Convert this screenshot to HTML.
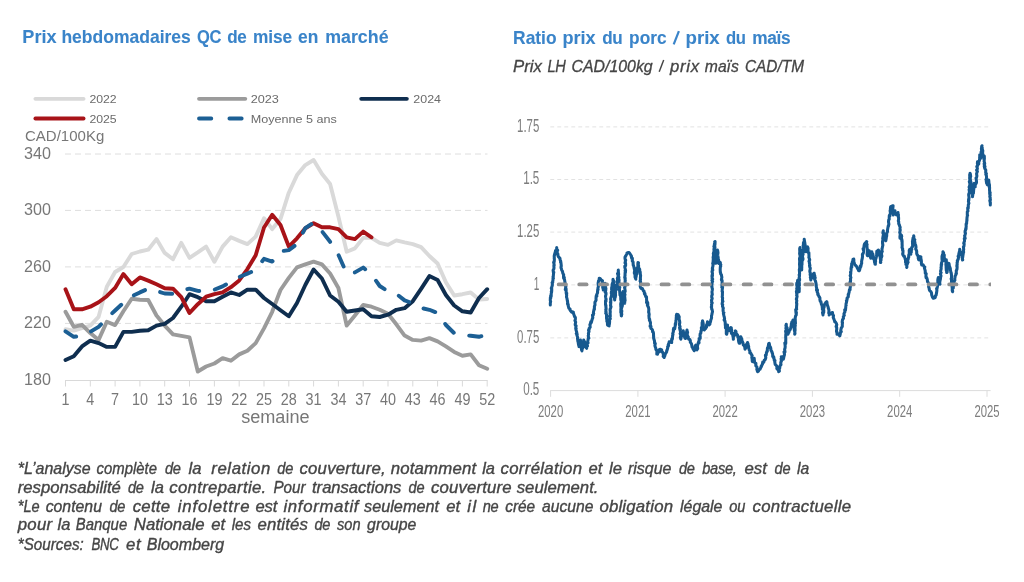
<!DOCTYPE html><html><head><meta charset="utf-8"><title>Prix hebdomadaires</title>
<style>html,body{margin:0;padding:0;background:#fff}svg{display:block}text{font-family:"Liberation Sans",sans-serif}</style></head><body>
<svg width="1024" height="582" viewBox="0 0 1024 582">
<rect width="100%" height="100%" fill="#fff"/>
<g style="will-change:transform">
<text transform="translate(22.3,42.7) scale(0.973,1)" font-size="18.6" fill="#3a84c9" textLength="35.2" lengthAdjust="spacing" font-weight="bold" stroke="#3a84c9" stroke-width="0.1">Prix</text>
<text transform="translate(61.4,42.7) scale(0.941,1)" font-size="18.6" fill="#3a84c9" textLength="137.5" lengthAdjust="spacing" font-weight="bold" stroke="#3a84c9" stroke-width="0.1">hebdomadaires</text>
<text transform="translate(197.1,42.7) scale(0.887,1)" font-size="18.6" fill="#3a84c9" textLength="27.3" lengthAdjust="spacing" font-weight="bold" stroke="#3a84c9" stroke-width="0.1">QC</text>
<text transform="translate(227.2,42.7) scale(0.918,1)" font-size="18.6" fill="#3a84c9" textLength="21.2" lengthAdjust="spacing" font-weight="bold" stroke="#3a84c9" stroke-width="0.1">de</text>
<text transform="translate(253.0,42.7) scale(0.930,1)" font-size="18.6" fill="#3a84c9" textLength="42.2" lengthAdjust="spacing" font-weight="bold" stroke="#3a84c9" stroke-width="0.1">mise</text>
<text transform="translate(298.1,42.7) scale(0.935,1)" font-size="18.6" fill="#3a84c9" textLength="21.7" lengthAdjust="spacing" font-weight="bold" stroke="#3a84c9" stroke-width="0.1">en</text>
<text transform="translate(325.2,42.7) scale(0.957,1)" font-size="18.6" fill="#3a84c9" textLength="66.2" lengthAdjust="spacing" font-weight="bold" stroke="#3a84c9" stroke-width="0.1">marché</text>
<text transform="translate(513.1,44.3) scale(0.935,1)" font-size="18.6" fill="#3a84c9" textLength="46.5" lengthAdjust="spacing" font-weight="bold" stroke="#3a84c9" stroke-width="0.1">Ratio</text>
<text transform="translate(562.5,44.3) scale(0.973,1)" font-size="18.6" fill="#3a84c9" textLength="34.1" lengthAdjust="spacing" font-weight="bold" stroke="#3a84c9" stroke-width="0.1">prix</text>
<text transform="translate(602.2,44.3) scale(0.918,1)" font-size="18.6" fill="#3a84c9" textLength="22.2" lengthAdjust="spacing" font-weight="bold" stroke="#3a84c9" stroke-width="0.1">du</text>
<text transform="translate(629.1,44.3) scale(0.930,1)" font-size="18.6" fill="#3a84c9" textLength="40.3" lengthAdjust="spacing" font-weight="bold" stroke="#3a84c9" stroke-width="0.1">porc</text>
<text transform="translate(685.5,44.3) scale(1.003,1)" font-size="18.6" fill="#3a84c9" textLength="34.1" lengthAdjust="spacing" font-weight="bold" stroke="#3a84c9" stroke-width="0.1">prix</text>
<text transform="translate(726.1,44.3) scale(0.896,1)" font-size="18.6" fill="#3a84c9" textLength="22.2" lengthAdjust="spacing" font-weight="bold" stroke="#3a84c9" stroke-width="0.1">du</text>
<text transform="translate(752.3,44.3) scale(0.930,1)" font-size="18.6" fill="#3a84c9" textLength="41.1" lengthAdjust="spacing" font-weight="bold" stroke="#3a84c9" stroke-width="0.1">maïs</text>
<line x1="673.7" y1="44.3" x2="678.9" y2="31.2" stroke="#3a84c9" stroke-width="2.2"/>
<line x1="659.2" y1="71.7" x2="663.7" y2="60.1" stroke="#454545" stroke-width="1.45"/>
<text transform="translate(513.1,71.9) scale(1.069,1)" font-size="15.7" fill="#454545" textLength="27.0" lengthAdjust="spacing" font-style="italic" stroke="#454545" stroke-width="0.3">Prix</text>
<text transform="translate(547.5,71.9) scale(0.930,1)" font-size="15.7" fill="#454545" textLength="19.6" lengthAdjust="spacing" font-style="italic" stroke="#454545" stroke-width="0.3">LH</text>
<text transform="translate(571.5,71.9) scale(1.011,1)" font-size="15.7" fill="#454545" textLength="80.3" lengthAdjust="spacing" font-style="italic" stroke="#454545" stroke-width="0.3">CAD/100kg</text>
<text transform="translate(670.0,71.9) scale(1.070,1)" font-size="15.7" fill="#454545" textLength="27.3" lengthAdjust="spacing" font-style="italic" stroke="#454545" stroke-width="0.3">prix</text>
<text transform="translate(704.8,71.9) scale(1.002,1)" font-size="15.7" fill="#454545" textLength="34.0" lengthAdjust="spacing" font-style="italic" stroke="#454545" stroke-width="0.3">maïs</text>
<text transform="translate(745.0,71.9) scale(0.980,1)" font-size="15.7" fill="#454545" textLength="60.2" lengthAdjust="spacing" font-style="italic" stroke="#454545" stroke-width="0.3">CAD/TM</text>
<line x1="65" y1="154.0" x2="487.5" y2="154.0" stroke="#dedede" stroke-width="1" stroke-dasharray="6 4"/>
<line x1="65" y1="210.4" x2="487.5" y2="210.4" stroke="#dedede" stroke-width="1" stroke-dasharray="6 4"/>
<line x1="65" y1="266.9" x2="487.5" y2="266.9" stroke="#dedede" stroke-width="1" stroke-dasharray="6 4"/>
<line x1="65" y1="323.4" x2="487.5" y2="323.4" stroke="#dedede" stroke-width="1" stroke-dasharray="6 4"/>
<line x1="65" y1="380.5" x2="487.7" y2="380.5" stroke="#d9d9d9" stroke-width="1"/>
<line x1="65.5" y1="380.5" x2="65.5" y2="386.5" stroke="#d9d9d9" stroke-width="1"/>
<text x="65.5" y="404.9" font-size="15.7" fill="#777777" textLength="8.0" lengthAdjust="spacingAndGlyphs" text-anchor="middle">1</text>
<line x1="90.3" y1="380.5" x2="90.3" y2="386.5" stroke="#d9d9d9" stroke-width="1"/>
<text x="90.3" y="404.9" font-size="15.7" fill="#777777" textLength="8.0" lengthAdjust="spacingAndGlyphs" text-anchor="middle">4</text>
<line x1="115.1" y1="380.5" x2="115.1" y2="386.5" stroke="#d9d9d9" stroke-width="1"/>
<text x="115.1" y="404.9" font-size="15.7" fill="#777777" textLength="8.0" lengthAdjust="spacingAndGlyphs" text-anchor="middle">7</text>
<line x1="139.9" y1="380.5" x2="139.9" y2="386.5" stroke="#d9d9d9" stroke-width="1"/>
<text x="139.9" y="404.9" font-size="15.7" fill="#777777" textLength="16.0" lengthAdjust="spacingAndGlyphs" text-anchor="middle">10</text>
<line x1="164.7" y1="380.5" x2="164.7" y2="386.5" stroke="#d9d9d9" stroke-width="1"/>
<text x="164.7" y="404.9" font-size="15.7" fill="#777777" textLength="16.0" lengthAdjust="spacingAndGlyphs" text-anchor="middle">13</text>
<line x1="189.5" y1="380.5" x2="189.5" y2="386.5" stroke="#d9d9d9" stroke-width="1"/>
<text x="189.5" y="404.9" font-size="15.7" fill="#777777" textLength="16.0" lengthAdjust="spacingAndGlyphs" text-anchor="middle">16</text>
<line x1="214.4" y1="380.5" x2="214.4" y2="386.5" stroke="#d9d9d9" stroke-width="1"/>
<text x="214.4" y="404.9" font-size="15.7" fill="#777777" textLength="16.0" lengthAdjust="spacingAndGlyphs" text-anchor="middle">19</text>
<line x1="239.2" y1="380.5" x2="239.2" y2="386.5" stroke="#d9d9d9" stroke-width="1"/>
<text x="239.2" y="404.9" font-size="15.7" fill="#777777" textLength="16.0" lengthAdjust="spacingAndGlyphs" text-anchor="middle">22</text>
<line x1="264.0" y1="380.5" x2="264.0" y2="386.5" stroke="#d9d9d9" stroke-width="1"/>
<text x="264.0" y="404.9" font-size="15.7" fill="#777777" textLength="16.0" lengthAdjust="spacingAndGlyphs" text-anchor="middle">25</text>
<line x1="288.8" y1="380.5" x2="288.8" y2="386.5" stroke="#d9d9d9" stroke-width="1"/>
<text x="288.8" y="404.9" font-size="15.7" fill="#777777" textLength="16.0" lengthAdjust="spacingAndGlyphs" text-anchor="middle">28</text>
<line x1="313.6" y1="380.5" x2="313.6" y2="386.5" stroke="#d9d9d9" stroke-width="1"/>
<text x="313.6" y="404.9" font-size="15.7" fill="#777777" textLength="16.0" lengthAdjust="spacingAndGlyphs" text-anchor="middle">31</text>
<line x1="338.4" y1="380.5" x2="338.4" y2="386.5" stroke="#d9d9d9" stroke-width="1"/>
<text x="338.4" y="404.9" font-size="15.7" fill="#777777" textLength="16.0" lengthAdjust="spacingAndGlyphs" text-anchor="middle">34</text>
<line x1="363.2" y1="380.5" x2="363.2" y2="386.5" stroke="#d9d9d9" stroke-width="1"/>
<text x="363.2" y="404.9" font-size="15.7" fill="#777777" textLength="16.0" lengthAdjust="spacingAndGlyphs" text-anchor="middle">37</text>
<line x1="388.0" y1="380.5" x2="388.0" y2="386.5" stroke="#d9d9d9" stroke-width="1"/>
<text x="388.0" y="404.9" font-size="15.7" fill="#777777" textLength="16.0" lengthAdjust="spacingAndGlyphs" text-anchor="middle">40</text>
<line x1="412.8" y1="380.5" x2="412.8" y2="386.5" stroke="#d9d9d9" stroke-width="1"/>
<text x="412.8" y="404.9" font-size="15.7" fill="#777777" textLength="16.0" lengthAdjust="spacingAndGlyphs" text-anchor="middle">43</text>
<line x1="437.6" y1="380.5" x2="437.6" y2="386.5" stroke="#d9d9d9" stroke-width="1"/>
<text x="437.6" y="404.9" font-size="15.7" fill="#777777" textLength="16.0" lengthAdjust="spacingAndGlyphs" text-anchor="middle">46</text>
<line x1="462.4" y1="380.5" x2="462.4" y2="386.5" stroke="#d9d9d9" stroke-width="1"/>
<text x="462.4" y="404.9" font-size="15.7" fill="#777777" textLength="16.0" lengthAdjust="spacingAndGlyphs" text-anchor="middle">49</text>
<line x1="487.2" y1="380.5" x2="487.2" y2="386.5" stroke="#d9d9d9" stroke-width="1"/>
<text x="487.2" y="404.9" font-size="15.7" fill="#777777" textLength="16.0" lengthAdjust="spacingAndGlyphs" text-anchor="middle">52</text>
<text x="24.0" y="158.7" font-size="16" fill="#777777" textLength="26.9" lengthAdjust="spacingAndGlyphs">340</text>
<text x="24.0" y="215.1" font-size="16" fill="#777777" textLength="26.9" lengthAdjust="spacingAndGlyphs">300</text>
<text x="24.0" y="271.6" font-size="16" fill="#777777" textLength="26.9" lengthAdjust="spacingAndGlyphs">260</text>
<text x="24.0" y="328.1" font-size="16" fill="#777777" textLength="26.9" lengthAdjust="spacingAndGlyphs">220</text>
<text x="24.0" y="384.6" font-size="16" fill="#777777" textLength="26.9" lengthAdjust="spacingAndGlyphs">180</text>
<text x="25.0" y="141.2" font-size="14.4" fill="#777777" textLength="79.3" lengthAdjust="spacingAndGlyphs">CAD/100Kg</text>
<text x="275.4" y="423.1" font-size="17.5" fill="#777777" textLength="68.5" lengthAdjust="spacingAndGlyphs" text-anchor="middle">semaine</text>
<line x1="35.4" y1="98.8" x2="83.6" y2="98.8" stroke="#d9d9d9" stroke-width="3.8" stroke-linecap="round"/>
<text x="89.4" y="103.0" font-size="11.3" fill="#6b6b6b" textLength="27.3" lengthAdjust="spacingAndGlyphs">2022</text>
<line x1="199.0" y1="98.8" x2="245.3" y2="98.8" stroke="#9b9b9b" stroke-width="3.8" stroke-linecap="round"/>
<text x="250.7" y="103.0" font-size="11.3" fill="#6b6b6b" textLength="28.2" lengthAdjust="spacingAndGlyphs">2023</text>
<line x1="361.2" y1="98.8" x2="406.9" y2="98.8" stroke="#0f2e4f" stroke-width="3.8" stroke-linecap="round"/>
<text x="413.3" y="103.0" font-size="11.3" fill="#6b6b6b" textLength="27.7" lengthAdjust="spacingAndGlyphs">2024</text>
<line x1="35.4" y1="118.5" x2="83.6" y2="118.5" stroke="#a81318" stroke-width="3.8" stroke-linecap="round"/>
<text x="89.4" y="122.7" font-size="11.3" fill="#6b6b6b" textLength="27.3" lengthAdjust="spacingAndGlyphs">2025</text>
<line x1="199.0" y1="118.5" x2="245.3" y2="118.5" stroke="#1c5f94" stroke-width="3.8" stroke-linecap="round" stroke-dasharray="12.3 18.1"/>
<text x="250.7" y="122.7" font-size="11.3" fill="#6b6b6b" textLength="86.2" lengthAdjust="spacingAndGlyphs">Moyenne 5 ans</text>
<polyline points="65.5,329.3 73.8,330.6 82.0,328.1 90.3,325.6 98.6,316.8 106.8,286.7 115.1,272.0 123.4,267.0 131.7,254.0 139.9,251.5 148.2,249.7 156.5,239.1 164.7,252.9 173.0,259.2 181.3,242.9 189.5,257.9 197.8,252.4 206.1,246.6 214.4,261.7 222.6,246.6 230.9,237.3 239.2,240.9 247.4,244.1 255.7,236.6 264.0,218.3 272.2,229.1 280.5,219.0 288.8,192.7 297.0,175.1 305.3,165.1 313.6,160.0 321.9,173.8 330.1,183.9 338.4,216.5 346.7,251.7 354.9,248.4 363.2,237.9 371.5,237.9 379.7,242.9 388.0,244.9 396.3,240.4 404.6,242.4 412.8,244.1 421.1,247.2 429.4,256.0 437.6,263.5 445.9,282.3 454.2,295.5 462.4,294.2 470.7,292.5 479.0,299.5 487.2,299.0" fill="none" stroke="#d9d9d9" stroke-width="3.9" stroke-linejoin="round" stroke-linecap="round"/>
<polyline points="65.5,311.8 73.8,326.8 82.0,324.8 90.3,333.1 98.6,339.9 106.8,321.8 115.1,325.1 123.4,311.3 131.7,298.7 139.9,299.7 148.2,300.0 156.5,315.5 164.7,325.6 173.0,334.4 181.3,335.9 189.5,337.4 197.8,371.5 206.1,366.5 214.4,363.5 222.6,358.2 230.9,360.7 239.2,354.4 247.4,350.7 255.7,343.1 264.0,328.4 272.2,311.8 280.5,290.0 288.8,277.9 297.0,267.4 305.3,264.3 313.6,261.6 321.9,264.4 330.1,273.5 338.4,288.0 346.7,325.6 354.9,315.5 363.2,305.0 371.5,306.7 379.7,309.8 388.0,313.8 396.3,324.3 404.6,335.6 412.8,339.9 421.1,340.6 429.4,338.1 437.6,341.4 445.9,346.4 454.2,351.9 462.4,355.7 470.7,354.4 479.0,365.2 487.2,368.7" fill="none" stroke="#9b9b9b" stroke-width="3.9" stroke-linejoin="round" stroke-linecap="round"/>
<polyline points="65.5,360.0 73.8,356.2 82.0,346.4 90.3,340.6 98.6,343.1 106.8,346.9 115.1,346.9 123.4,331.9 131.7,331.9 139.9,330.8 148.2,330.3 156.5,325.6 164.7,323.8 173.0,318.0 181.3,306.7 189.5,294.2 197.8,297.2 206.1,301.2 214.4,301.2 222.6,296.7 230.9,292.4 239.2,295.0 247.4,289.7 255.7,289.7 264.0,298.0 272.2,304.0 280.5,310.2 288.8,316.3 297.0,303.0 305.3,285.0 313.6,269.5 321.9,278.5 330.1,295.5 338.4,301.7 346.7,311.8 354.9,310.5 363.2,309.3 371.5,316.3 379.7,317.0 388.0,314.7 396.3,309.8 404.6,308.2 412.8,301.2 421.1,288.8 429.4,276.1 437.6,280.0 445.9,295.0 454.2,305.5 462.4,311.3 470.7,312.5 479.0,298.0 487.2,289.2" fill="none" stroke="#0f2e4f" stroke-width="3.9" stroke-linejoin="round" stroke-linecap="round"/>
<polyline points="65.5,289.2 73.8,309.3 82.0,309.3 90.3,306.7 98.6,302.2 106.8,296.2 115.1,287.9 123.4,274.1 131.7,284.2 139.9,277.4 148.2,280.6 156.5,284.2 164.7,288.2 173.0,288.7 181.3,297.2 189.5,313.0 197.8,304.2 206.1,296.7 214.4,294.2 222.6,292.4 230.9,287.2 239.2,280.4 247.4,269.1 255.7,255.3 264.0,227.5 272.2,214.8 280.5,225.0 288.8,246.6 297.0,238.3 305.3,228.2 313.6,223.3 321.9,227.3 330.1,227.3 338.4,229.1 346.7,237.3 354.9,239.1 363.2,231.6 371.5,237.3" fill="none" stroke="#a81318" stroke-width="3.9" stroke-linejoin="round" stroke-linecap="round"/>
<polyline points="65.5,331.4 73.8,336.8 82.0,335.6 90.3,331.9 98.6,326.8 106.8,318.5 115.1,310.5 123.4,302.8 131.7,296.4 139.9,292.4 148.2,288.7 156.5,291.0 164.7,293.5 173.0,293.7 181.3,291.0 189.5,288.6 197.8,290.9 206.1,291.7 214.4,289.7 222.6,286.4 230.9,281.7 239.2,277.0 247.4,273.6 255.7,270.0 264.0,258.8 272.2,261.6 280.5,251.4 288.8,250.1 297.0,244.0 305.3,228.2 313.6,222.6 321.9,231.2 330.1,241.8 338.4,254.7 346.7,273.5 354.9,272.4 363.2,267.6 371.5,274.5 379.7,286.0 388.0,291.3 396.3,293.8 404.6,300.4 412.8,303.3 421.1,308.0 429.4,309.8 437.6,313.0 445.9,325.0 454.2,333.2 462.4,334.7 470.7,335.8 479.0,336.8 487.2,334.6" fill="none" stroke="#1c5f94" stroke-width="3.9" stroke-linejoin="round" stroke-linecap="round" stroke-dasharray="12.3 15.85"/>
<line x1="550.3" y1="126.9" x2="990.8" y2="126.9" stroke="#e2e2e2" stroke-width="1" stroke-dasharray="3.9 3.1"/>
<line x1="550.3" y1="179.5" x2="990.8" y2="179.5" stroke="#e2e2e2" stroke-width="1" stroke-dasharray="3.9 3.1"/>
<line x1="550.3" y1="232.1" x2="990.8" y2="232.1" stroke="#e2e2e2" stroke-width="1" stroke-dasharray="3.9 3.1"/>
<line x1="550.3" y1="284.9" x2="990.8" y2="284.9" stroke="#e2e2e2" stroke-width="1" stroke-dasharray="3.9 3.1"/>
<line x1="550.3" y1="337.9" x2="990.8" y2="337.9" stroke="#e2e2e2" stroke-width="1" stroke-dasharray="3.9 3.1"/>
<line x1="550.2" y1="390.6" x2="990.6" y2="390.6" stroke="#dcdcdc" stroke-width="1"/>
<text x="539.3" y="131.7" font-size="17.5" fill="#7d7d7d" textLength="22.2" lengthAdjust="spacingAndGlyphs" text-anchor="end">1.75</text>
<text x="539.3" y="184.4" font-size="17.5" fill="#7d7d7d" textLength="16.1" lengthAdjust="spacingAndGlyphs" text-anchor="end">1.5</text>
<text x="539.3" y="237.2" font-size="17.5" fill="#7d7d7d" textLength="22.2" lengthAdjust="spacingAndGlyphs" text-anchor="end">1.25</text>
<text x="539.3" y="289.9" font-size="17.5" fill="#7d7d7d" textLength="5.6" lengthAdjust="spacingAndGlyphs" text-anchor="end">1</text>
<text x="539.3" y="342.7" font-size="17.5" fill="#7d7d7d" textLength="22.2" lengthAdjust="spacingAndGlyphs" text-anchor="end">0.75</text>
<text x="539.3" y="395.4" font-size="17.5" fill="#7d7d7d" textLength="16.1" lengthAdjust="spacingAndGlyphs" text-anchor="end">0.5</text>
<line x1="550.6" y1="390.6" x2="550.6" y2="396.8" stroke="#dcdcdc" stroke-width="1"/>
<text x="550.6" y="416.5" font-size="17" fill="#7d7d7d" textLength="25.2" lengthAdjust="spacingAndGlyphs" text-anchor="middle">2020</text>
<line x1="637.9" y1="390.6" x2="637.9" y2="396.8" stroke="#dcdcdc" stroke-width="1"/>
<text x="637.9" y="416.5" font-size="17" fill="#7d7d7d" textLength="25.2" lengthAdjust="spacingAndGlyphs" text-anchor="middle">2021</text>
<line x1="725.1" y1="390.6" x2="725.1" y2="396.8" stroke="#dcdcdc" stroke-width="1"/>
<text x="725.1" y="416.5" font-size="17" fill="#7d7d7d" textLength="25.2" lengthAdjust="spacingAndGlyphs" text-anchor="middle">2022</text>
<line x1="812.4" y1="390.6" x2="812.4" y2="396.8" stroke="#dcdcdc" stroke-width="1"/>
<text x="812.4" y="416.5" font-size="17" fill="#7d7d7d" textLength="25.2" lengthAdjust="spacingAndGlyphs" text-anchor="middle">2023</text>
<line x1="899.7" y1="390.6" x2="899.7" y2="396.8" stroke="#dcdcdc" stroke-width="1"/>
<text x="899.7" y="416.5" font-size="17" fill="#7d7d7d" textLength="25.2" lengthAdjust="spacingAndGlyphs" text-anchor="middle">2024</text>
<line x1="987.0" y1="390.6" x2="987.0" y2="396.8" stroke="#dcdcdc" stroke-width="1"/>
<text x="987.0" y="416.5" font-size="17" fill="#7d7d7d" textLength="25.2" lengthAdjust="spacingAndGlyphs" text-anchor="middle">2025</text>
<polyline points="550.3,305.0 550.3,303.0 550.6,301.7 550.6,301.3 550.3,300.6 550.3,299.3 550.4,297.3 550.8,298.1 550.7,295.4 551.2,296.2 551.2,293.6 551.7,291.6 551.3,291.7 551.8,290.0 551.3,288.3 551.7,289.0 551.7,287.2 552.3,285.5 552.4,283.5 552.1,282.7 552.8,282.1 552.7,281.4 553.0,280.0 553.0,278.3 553.4,278.2 553.0,276.8 553.3,276.4 553.5,273.7 553.8,272.2 553.4,272.7 553.2,270.8 553.1,270.2 553.9,268.8 554.0,267.0 553.9,266.6 553.9,265.1 554.2,265.2 553.9,263.3 553.6,262.3 554.2,261.9 554.4,258.9 554.2,258.3 554.3,257.7 554.2,256.1 554.6,254.1 554.8,254.7 555.1,252.3 555.6,252.8 555.5,250.6 556.2,250.7 556.7,249.5 556.7,247.5 556.7,248.5 556.9,250.9 557.7,250.2 557.1,251.6 557.4,253.4 557.9,254.0 558.0,255.8 558.6,256.9 560.0,258.3 560.0,259.7 560.7,261.2 560.5,262.1 560.8,261.8 561.2,264.9 561.3,266.1 561.1,266.2 561.0,268.0 561.1,267.7 561.7,270.0 561.9,270.4 562.5,271.3 562.7,272.8 563.7,275.0 563.5,275.8 563.6,278.2 564.3,277.4 564.2,279.0 564.5,279.6 565.1,282.9 564.9,282.7 564.8,282.9 565.3,285.0 565.3,285.5 565.9,286.3 565.3,289.5 566.0,288.5 566.1,289.3 566.2,292.9 566.7,293.3 566.3,293.5 566.7,295.0 566.5,296.9 566.9,298.1 566.9,297.9 567.4,301.0 567.6,301.7 567.7,302.8 567.5,303.3 567.7,304.5 568.2,304.3 568.3,306.1 568.9,308.3 570.0,308.8 570.0,310.0 571.6,312.1 572.5,311.7 573.4,312.3 573.2,313.0 573.7,313.9 574.6,316.7 575.0,316.7 575.4,317.8 575.3,319.8 574.9,320.6 575.7,322.1 575.6,322.4 575.2,324.4 575.4,325.6 576.1,325.7 575.7,328.3 575.8,328.3 576.2,328.6 575.9,329.6 576.8,332.5 576.3,333.6 577.2,334.3 576.8,335.1 576.8,334.8 577.7,337.6 577.5,338.3 577.8,340.7 577.9,341.7 578.5,341.2 578.2,342.6 578.5,344.5 578.7,345.3 579.2,346.7 579.0,346.6 579.4,344.3 579.8,344.4 579.9,343.3 580.1,341.2 580.3,340.0 580.5,340.0 580.6,341.6 580.4,344.4 580.8,344.7 581.5,346.2 581.3,347.3 581.7,349.2 581.5,349.8 582.0,350.8 582.0,349.0 582.6,348.4 582.6,347.9 583.1,345.9 583.0,344.8 583.1,344.1 583.3,342.5 583.5,342.4 583.7,340.0 584.1,342.1 584.6,341.6 584.6,344.5 585.1,343.5 584.7,345.4 585.3,346.7 586.7,348.3 586.5,346.5 586.7,346.6 587.5,346.0 587.1,344.5 587.7,341.8 588.1,342.9 587.7,341.7 588.1,339.4 588.3,338.3 588.9,338.1 588.2,335.9 588.6,334.6 588.4,333.4 589.0,331.5 588.9,331.5 588.5,330.1 589.2,329.5 589.2,328.3 589.1,328.5 590.2,327.3 589.9,324.4 590.2,324.6 590.8,321.8 591.3,322.7 592.0,319.9 591.8,320.5 592.5,318.3 592.8,317.7 592.5,315.0 593.3,314.8 592.9,315.0 593.7,313.6 593.4,312.6 593.6,311.5 594.1,309.0 594.4,309.4 594.4,306.3 594.8,305.4 595.0,305.0 594.9,303.0 595.0,302.0 595.5,301.2 596.1,300.0 596.0,298.6 596.1,297.1 596.2,296.0 596.9,296.2 596.6,294.9 597.5,292.9 597.6,292.6 597.5,291.7 597.6,291.4 597.7,289.5 598.1,289.6 597.9,288.1 598.4,286.5 598.2,284.6 598.1,282.9 598.2,283.4 598.5,280.8 598.5,281.4 599.4,279.9 599.2,278.3 600.1,278.5 601.2,279.9 602.5,280.8 602.3,281.8 602.5,284.3 603.2,284.4 602.7,286.6 602.8,286.2 602.7,287.4 603.2,288.9 603.3,290.0 603.3,288.9 603.4,287.2 603.8,286.4 604.0,284.3 604.5,283.7 605.0,283.3 605.2,284.6 605.4,286.1 605.4,287.8 605.2,287.5 605.9,288.3 605.7,290.7 605.2,292.4 606.0,293.0 606.0,294.6 605.8,295.0 605.5,296.2 605.8,298.1 606.1,299.2 605.9,300.5 606.0,301.1 605.6,300.4 605.5,302.4 605.5,304.8 605.9,305.3 605.9,306.6 605.8,305.9 606.1,309.0 605.8,309.5 606.0,309.4 605.8,311.7 606.2,312.1 605.7,313.3 606.5,314.2 606.6,317.3 606.5,316.9 606.6,318.8 607.0,319.7 607.1,319.5 606.8,321.0 607.4,322.3 607.4,322.6 607.5,325.0 609.2,325.8 608.9,324.1 609.5,324.0 609.6,321.7 609.6,321.0 609.6,318.9 610.1,318.0 610.3,318.7 609.5,316.3 610.3,316.4 610.1,313.4 610.0,314.0 610.3,311.7 610.1,310.7 610.1,309.4 610.9,307.3 610.9,307.1 611.0,306.5 610.5,305.8 610.8,302.4 610.4,302.5 610.9,300.8 610.6,299.8 610.9,299.9 610.6,298.6 611.5,295.8 611.6,296.2 611.6,293.9 611.3,293.3 611.4,291.9 612.1,291.2 611.6,289.6 611.7,287.4 611.7,288.3 612.0,287.4 612.1,284.5 612.5,283.1 612.5,283.9 613.1,282.3 613.0,281.4 613.0,279.2 613.5,280.5 613.4,280.3 613.5,282.5 613.6,284.2 613.3,283.8 613.9,285.1 613.6,286.9 613.6,289.0 614.3,289.0 614.1,290.2 614.1,291.6 613.8,292.2 613.9,295.3 614.3,294.6 614.8,297.8 614.4,296.7 614.3,297.8 614.7,300.0 614.7,297.8 614.8,297.0 615.2,297.5 615.6,295.1 615.4,294.2 615.6,292.6 615.4,291.3 616.4,289.7 616.2,289.8 616.3,288.3 616.8,286.4 616.4,285.4 616.6,284.8 617.2,284.7 617.3,281.4 616.7,282.0 617.6,280.2 617.4,277.9 617.4,279.1 617.9,277.8 618.1,275.1 617.5,273.7 618.0,273.9 618.5,272.9 618.3,271.8 618.3,270.0 618.4,271.3 618.1,273.0 618.3,274.5 618.7,274.1 618.3,275.1 618.9,277.4 618.5,276.9 618.9,279.3 618.9,279.5 619.1,280.1 618.9,282.4 619.6,284.1 619.6,284.8 619.1,285.3 619.8,287.6 619.3,287.0 619.5,289.8 619.5,289.9 619.7,291.7 620.0,294.0 619.8,292.8 620.0,295.0 620.5,295.6 620.8,298.2 620.7,298.0 620.8,300.0 621.3,300.6 621.2,301.6 620.7,304.1 620.8,305.7 621.0,304.8 620.8,306.6 621.2,309.1 620.8,308.8 620.9,311.4 620.9,310.1 620.8,312.2 621.6,314.6 621.5,316.0 621.3,315.8 621.8,314.3 621.2,314.8 621.8,311.3 621.8,311.1 621.6,309.9 621.5,307.9 621.7,307.8 622.3,306.1 622.4,305.2 622.0,305.7 622.5,303.6 621.8,302.6 622.2,302.6 622.1,300.1 622.8,298.1 622.5,299.1 622.9,296.0 622.3,294.9 623.2,294.3 623.1,294.9 622.8,292.2 623.0,291.7 623.6,293.1 623.1,294.6 623.3,294.6 623.2,297.0 624.2,297.8 624.4,297.4 623.9,299.8 624.7,302.2 624.4,301.5 624.7,303.3 624.6,302.2 625.1,300.3 625.0,300.6 625.0,299.6 624.8,297.3 624.6,296.3 625.0,294.5 624.5,295.1 624.6,292.2 624.4,292.4 624.7,292.4 625.2,291.3 624.7,287.8 624.5,287.8 625.1,286.5 624.7,285.3 625.0,284.9 625.2,284.2 625.1,281.2 625.3,280.6 625.1,279.7 625.2,278.1 624.8,277.1 624.7,277.7 625.1,275.1 625.0,275.7 625.1,272.6 625.4,272.6 625.6,270.1 625.1,270.8 625.5,270.0 624.8,267.2 624.8,265.9 625.6,265.8 625.6,264.1 625.6,263.2 625.0,262.9 625.7,260.1 625.4,260.3 625.0,258.5 625.0,257.0 625.3,256.7 625.8,255.9 626.8,253.8 626.9,253.1 628.0,252.5 629.1,252.5 629.7,253.4 630.8,255.0 631.5,256.2 631.2,256.2 631.8,258.5 632.4,258.4 632.3,261.1 633.0,261.7 633.1,262.2 633.2,265.1 633.4,265.2 633.6,265.9 634.3,268.5 634.2,268.3 634.2,268.7 634.7,270.0 634.3,273.0 634.8,274.0 635.0,275.3 635.2,274.7 635.0,276.9 635.8,279.0 635.8,279.2 635.6,278.4 636.0,277.0 635.9,275.3 636.4,275.8 636.2,273.6 637.0,273.7 636.6,270.4 637.4,271.5 637.1,268.0 637.7,267.8 637.8,267.3 637.9,265.0 638.0,264.0 637.8,264.5 638.0,262.5 638.5,262.8 638.2,264.5 638.6,265.6 638.5,266.4 639.2,269.3 638.8,269.5 639.7,269.3 639.7,271.7 640.2,271.8 640.3,274.0 640.5,275.0 640.6,275.6 640.4,277.5 640.4,278.8 640.5,279.4 640.1,281.0 640.5,281.1 640.7,283.7 640.5,283.3 640.5,284.2 640.2,286.2 640.5,287.5 641.1,288.5 642.4,288.5 643.3,290.8 644.0,290.9 644.5,293.9 644.8,293.2 645.3,295.2 645.8,296.7 646.5,296.8 646.6,300.2 646.8,300.8 646.5,302.4 647.0,303.4 647.7,302.5 647.8,305.6 647.4,305.2 648.0,306.7 648.4,307.0 648.7,308.5 648.8,309.3 648.7,312.5 648.6,312.0 649.0,313.3 649.2,315.0 648.9,315.3 649.1,318.4 649.7,319.4 649.4,320.2 649.5,320.6 650.1,321.3 650.5,322.9 650.3,324.9 650.1,326.3 650.7,325.8 651.0,326.6 650.8,328.3 652.1,329.4 652.5,330.0 652.6,331.8 652.8,331.4 653.3,332.2 653.5,333.8 653.6,336.8 653.7,337.1 653.6,336.5 653.6,338.0 654.2,340.0 654.5,341.0 654.7,343.4 654.5,342.9 655.3,343.5 654.9,345.6 655.2,346.8 655.8,348.3 655.9,349.7 656.6,349.9 656.9,351.8 656.8,354.1 657.5,354.2 657.8,352.3 658.1,352.5 659.3,351.9 659.4,349.6 660.0,349.2 661.7,350.0 661.6,351.4 662.4,351.8 662.9,353.1 663.5,354.9 663.2,356.4 663.4,356.5 664.2,357.5 664.6,355.7 664.8,355.9 665.2,354.1 666.6,351.9 666.7,351.7 666.7,350.8 667.2,349.8 667.8,347.5 667.6,346.7 667.6,347.1 668.6,345.6 668.2,344.8 669.1,342.7 669.2,341.7 670.6,342.0 671.7,342.5 671.6,340.3 671.7,339.0 672.0,339.7 672.4,338.9 672.6,336.2 672.6,335.5 673.0,334.6 672.7,333.8 673.4,331.5 673.5,329.9 673.3,330.0 673.7,328.2 674.7,328.9 675.0,326.7 675.4,325.1 675.6,323.9 675.2,324.3 675.7,322.6 675.9,322.2 675.9,320.7 676.2,319.6 676.2,318.2 676.4,315.9 676.3,315.6 676.7,314.2 677.1,316.1 678.0,314.6 679.2,316.7 678.9,318.9 679.2,318.0 679.0,318.8 679.7,321.5 679.8,322.9 679.3,323.7 679.6,325.4 680.1,326.7 679.5,327.7 680.4,329.1 679.7,328.3 679.8,329.0 680.6,332.1 680.5,333.3 680.5,333.0 680.1,333.6 680.8,335.0 680.5,336.7 680.3,337.4 680.8,339.2 681.0,338.5 681.4,336.3 682.3,335.6 682.6,334.7 682.2,333.0 682.9,332.7 683.3,330.8 683.5,332.6 683.9,332.6 684.5,333.5 684.7,335.0 684.3,336.3 685.0,338.3 685.5,338.4 685.1,335.9 685.8,335.5 685.9,333.6 686.3,333.2 686.5,332.3 687.0,330.0 687.0,330.4 687.6,332.4 687.2,333.9 687.4,335.5 688.1,336.7 688.3,336.8 688.3,338.3 688.8,339.2 689.8,339.5 690.3,340.4 690.3,342.2 691.5,343.9 691.7,345.0 692.1,347.2 692.4,347.2 693.2,349.2 693.9,350.0 694.2,350.8 694.4,349.2 694.5,349.4 695.3,348.0 695.2,346.0 695.8,345.0 696.4,346.5 696.1,347.4 697.1,348.1 697.0,350.0 697.0,348.4 697.7,348.7 697.4,345.8 697.7,345.1 698.2,343.6 698.3,342.5 699.1,342.8 698.6,342.3 699.2,340.0 699.1,338.6 700.2,338.5 700.2,336.5 700.0,335.9 700.2,333.7 700.8,333.3 700.9,331.0 701.0,331.8 701.5,329.9 701.6,328.7 701.3,327.9 701.7,327.1 702.3,325.2 702.1,324.9 702.1,322.4 702.5,323.0 702.5,320.8 703.0,322.5 703.2,323.6 703.3,324.2 703.2,325.8 703.2,326.4 704.0,328.3 704.1,328.2 704.2,330.0 704.9,329.1 705.8,328.3 706.2,327.0 706.5,327.2 706.4,325.4 707.2,323.6 707.2,324.0 707.5,321.7 707.6,322.9 708.3,324.6 709.2,325.0 710.0,323.8 709.6,322.7 710.5,321.8 710.8,320.0 711.1,319.2 711.6,317.7 711.5,317.6 711.5,315.7 711.9,314.7 711.9,314.1 712.5,311.7 712.1,309.4 711.7,309.2 711.7,308.3 711.3,307.0 711.6,306.6 711.6,304.4 711.5,304.5 712.2,302.8 711.6,302.5 711.7,299.8 711.5,300.2 712.2,298.7 711.9,297.4 711.7,297.3 711.8,295.4 712.3,294.7 712.0,292.2 712.1,290.7 712.3,290.2 712.4,288.8 712.0,287.7 712.0,286.4 711.7,286.7 712.0,284.3 712.0,283.8 712.1,283.1 712.4,281.3 712.6,281.5 711.9,280.3 712.7,279.1 712.0,278.1 712.5,274.9 711.9,276.2 712.5,273.2 712.0,271.8 712.2,272.4 712.3,269.7 712.8,270.2 712.5,268.3 712.3,268.2 712.8,266.8 712.9,266.0 713.1,264.8 712.7,263.3 713.1,262.3 713.1,261.6 713.3,258.8 713.1,257.4 713.4,256.1 713.5,255.2 713.6,255.0 713.7,254.8 713.3,253.7 713.8,251.8 714.1,251.4 713.9,249.2 714.5,247.2 714.3,247.6 713.9,246.4 714.6,246.1 714.3,245.1 714.6,242.7 714.7,241.7 715.1,241.6 715.0,244.3 714.7,246.0 714.8,246.2 715.0,248.1 714.8,248.3 715.0,249.8 715.5,250.3 715.5,251.7 715.3,252.5 715.3,255.4 715.5,256.1 715.3,256.0 715.3,257.9 715.7,259.5 715.2,260.5 716.1,261.2 715.4,261.7 715.8,263.3 715.5,261.4 716.5,261.4 716.4,260.8 716.8,259.2 716.6,258.1 716.8,256.9 717.0,254.8 717.1,254.3 717.3,252.3 716.9,251.0 717.6,252.2 717.5,250.0 717.7,250.8 718.0,253.0 717.8,252.7 717.7,254.2 717.8,255.4 718.2,257.8 717.8,258.0 717.9,257.9 718.7,260.2 718.8,261.0 718.1,261.9 718.7,263.3 720.3,262.5 720.5,264.8 720.9,264.8 720.4,265.0 720.7,266.4 720.3,267.1 720.2,270.0 720.3,271.9 720.4,272.8 720.4,271.7 720.8,274.2 721.4,274.7 721.7,276.7 721.9,277.0 721.4,279.7 722.1,281.1 722.1,280.2 722.1,283.0 722.0,284.7 721.9,286.0 722.4,284.6 721.8,287.4 722.6,287.1 722.2,290.0 722.1,291.5 722.5,291.7 722.5,291.6 722.4,294.1 722.4,295.5 722.2,296.9 722.4,297.6 722.6,298.1 722.4,300.2 722.9,301.3 722.6,301.1 722.1,304.0 722.7,304.7 722.5,305.0 722.5,306.4 723.3,308.2 723.1,308.0 723.1,310.7 723.2,311.3 723.6,313.0 723.9,312.6 723.4,313.7 723.9,315.7 724.2,316.7 724.6,318.8 724.1,319.9 724.9,321.1 724.9,320.7 725.3,323.3 725.3,324.7 725.2,323.8 725.5,326.8 725.4,327.8 725.8,328.3 726.4,328.8 726.3,331.1 726.3,331.1 726.3,333.7 726.7,334.2 727.0,332.9 726.5,332.7 727.2,330.0 727.2,330.6 727.5,328.5 727.3,327.5 727.1,325.3 727.5,325.0 727.5,326.7 728.0,327.5 728.4,328.5 728.5,328.5 729.2,330.8 730.2,329.4 729.9,329.0 730.8,327.5 731.3,327.8 731.4,329.4 731.6,329.8 731.4,333.4 732.4,333.3 732.4,333.9 732.8,335.5 733.2,337.5 733.4,339.2 733.3,339.2 733.4,336.8 733.6,336.0 733.8,334.4 734.5,335.4 734.7,334.4 735.4,330.9 735.3,330.8 736.0,331.6 736.1,334.1 736.7,334.1 737.5,335.0 737.9,337.4 738.1,337.1 738.2,337.7 738.9,341.0 738.4,339.8 738.7,341.8 739.2,343.3 739.8,343.3 740.0,339.9 740.3,340.5 740.4,340.2 740.2,336.9 740.8,336.7 741.4,339.0 741.7,338.5 742.0,340.9 741.9,341.0 742.4,341.6 743.0,342.9 743.3,345.0 743.5,345.1 744.3,345.8 744.8,347.3 745.0,349.2 745.0,349.2 745.6,348.1 746.6,346.8 746.3,344.6 746.7,344.7 747.5,342.5 748.1,344.1 748.0,344.6 748.6,346.2 748.7,346.6 748.6,347.6 749.2,350.0 749.9,351.1 749.8,353.0 750.5,352.8 750.9,353.4 751.7,355.0 752.2,355.7 751.8,357.2 752.2,359.4 752.2,360.7 752.4,361.6 753.0,361.7 753.5,359.8 753.8,358.9 754.2,358.3 754.2,358.8 754.6,362.1 755.4,363.2 754.9,362.8 755.9,363.4 755.8,365.8 756.4,366.5 756.9,366.9 757.1,368.9 756.8,369.2 757.5,371.7 758.6,370.9 758.9,369.8 760.0,369.2 760.9,367.4 761.1,366.2 761.2,366.9 762.2,364.4 762.5,364.2 762.7,362.1 763.8,362.1 764.2,360.3 765.0,360.0 765.3,359.3 765.8,357.8 765.4,355.3 766.2,355.0 766.4,352.9 766.7,352.4 766.7,351.7 767.3,351.4 767.4,348.0 768.1,348.0 768.4,346.3 768.2,346.6 768.7,343.6 769.2,343.3 769.5,344.8 769.6,345.9 770.4,347.1 770.8,348.3 770.9,350.1 772.0,351.8 771.9,352.6 772.5,353.3 772.7,355.1 772.7,356.5 773.7,356.7 773.6,357.9 773.9,357.6 774.2,360.0 775.0,360.5 774.7,361.5 775.2,364.6 775.8,365.0 775.9,365.1 777.0,366.4 776.8,368.6 777.8,369.5 778.4,369.5 778.7,371.7 779.4,371.1 779.0,368.5 779.7,368.3 779.9,366.2 780.4,365.2 780.8,365.0 781.0,364.7 780.7,362.8 781.3,360.6 781.4,361.4 781.1,358.8 781.6,357.9 781.3,356.7 782.2,359.1 783.3,359.2 783.8,357.5 783.5,356.3 783.8,356.8 784.3,355.4 784.5,354.1 784.0,352.0 785.0,351.9 784.6,349.3 785.0,348.3 785.2,346.9 785.1,345.0 785.1,345.1 784.8,343.0 785.7,343.6 785.8,342.1 785.7,341.6 785.8,338.3 785.7,337.8 785.8,336.8 785.7,337.4 785.8,334.5 785.8,333.9 786.3,332.4 785.7,332.2 785.6,331.0 786.4,329.7 785.9,328.5 786.2,326.5 785.9,325.4 786.1,325.0 786.3,324.2 786.3,324.6 786.3,326.5 787.2,327.8 787.1,329.0 787.0,330.3 787.4,331.0 787.7,331.9 787.6,332.4 788.0,334.2 788.2,333.2 788.9,332.3 789.1,330.7 790.0,330.0 790.7,328.2 790.7,327.8 790.8,327.9 791.1,326.3 791.4,323.3 792.3,323.2 791.9,321.9 792.6,321.7 793.0,320.0 792.8,320.5 793.7,323.0 793.1,323.1 793.4,325.2 793.8,326.8 794.1,327.1 794.2,328.9 794.3,329.4 794.5,331.2 794.8,330.8 794.9,331.7 794.7,334.2 795.0,333.2 794.8,333.0 794.9,330.4 795.1,330.4 795.0,328.0 795.0,327.0 795.3,325.4 795.0,324.9 795.1,323.1 795.5,323.3 795.3,321.0 795.3,320.0 795.2,318.3 795.2,317.9 795.7,315.5 796.1,314.9 796.2,315.1 796.4,312.3 796.0,313.0 795.7,309.6 796.3,309.6 796.7,309.2 796.5,308.6 796.6,306.2 796.7,305.0 796.8,303.6 796.5,303.0 796.5,302.8 796.8,300.6 796.3,299.1 796.6,298.5 796.7,298.2 797.1,296.1 796.6,295.3 797.1,293.5 796.7,293.6 796.4,291.2 797.1,291.4 796.7,288.4 797.0,288.8 797.0,288.5 797.0,285.9 796.7,285.0 796.8,283.2 797.5,282.5 797.6,280.4 798.3,280.0 798.5,281.4 798.4,283.6 798.7,282.3 798.6,285.4 798.6,286.3 798.4,286.5 799.2,288.4 799.2,288.5 799.1,290.6 799.2,291.7 799.0,290.9 799.2,290.8 799.3,288.1 798.9,286.4 799.5,285.1 798.9,284.2 799.3,284.8 799.4,283.6 799.0,280.5 799.6,280.2 799.6,279.1 799.1,277.8 799.1,278.4 799.5,275.8 799.4,274.8 799.1,275.0 799.6,274.1 799.5,272.1 799.3,269.5 800.0,270.5 799.4,269.5 799.9,266.9 799.7,267.5 799.7,266.3 799.5,263.8 799.9,262.2 799.6,262.8 799.7,261.5 799.5,258.8 799.7,257.7 800.2,256.9 799.9,255.3 799.9,254.9 799.8,253.0 799.6,253.9 799.8,251.3 799.7,250.2 799.7,248.5 800.1,248.2 800.0,247.5 799.8,249.2 799.8,249.2 800.6,249.9 800.3,252.9 800.7,252.2 800.4,254.8 800.5,256.6 800.4,257.7 800.8,256.9 800.8,257.8 801.1,259.3 801.4,261.2 801.0,261.5 801.3,262.5 801.6,263.4 801.3,265.6 801.2,267.3 801.4,268.2 801.6,268.4 801.7,270.0 801.7,267.8 801.6,268.7 801.8,267.1 801.7,265.8 802.0,264.5 802.0,262.3 802.1,261.6 802.0,261.8 802.3,259.8 802.9,259.7 803.0,258.8 802.4,256.2 802.4,256.2 803.1,254.2 802.9,253.9 803.3,251.7 803.5,250.9 803.4,249.4 803.0,250.2 803.7,248.5 803.1,245.7 803.3,245.0 803.5,244.4 803.4,243.1 804.0,241.6 804.3,241.6 804.3,239.6 804.2,239.2 804.3,240.8 804.3,240.1 804.9,243.3 804.6,242.5 805.2,245.1 804.7,245.3 804.9,247.9 805.1,249.3 805.8,248.3 805.9,250.3 805.8,251.7 806.5,251.3 806.5,248.1 807.5,247.7 807.5,246.7 808.1,248.3 808.0,249.9 808.1,250.0 807.8,251.8 808.3,252.5 808.9,252.7 808.9,253.6 809.0,256.8 808.8,257.3 809.2,258.3 809.7,259.8 809.4,260.0 809.0,261.4 809.4,262.1 809.4,263.1 809.9,265.6 809.5,265.6 809.9,267.3 810.3,268.2 809.9,270.7 809.8,271.0 810.1,272.8 810.4,273.8 810.1,274.7 810.6,275.3 810.8,277.4 810.3,277.2 810.6,278.1 810.8,280.0 811.0,278.3 811.7,278.3 812.5,275.7 812.9,275.5 813.5,273.6 814.2,273.3 813.9,273.2 814.9,276.2 814.2,277.2 815.2,277.9 814.5,278.9 815.0,280.0 815.2,280.4 815.5,281.1 816.1,283.9 816.1,285.9 816.3,285.3 816.2,286.2 816.7,288.3 816.5,290.2 817.5,290.0 817.2,292.0 818.1,293.9 817.8,294.6 818.3,295.0 819.0,296.7 819.0,296.4 819.9,297.9 819.9,299.6 820.3,301.4 820.8,301.7 820.9,301.6 821.4,304.2 822.0,305.5 822.3,307.3 822.2,307.2 822.5,308.3 822.3,308.9 822.7,309.5 822.9,310.8 822.8,314.0 822.5,312.7 823.0,315.0 823.1,313.1 823.5,311.5 823.7,312.6 823.8,310.4 823.5,309.9 823.8,308.1 823.8,307.1 824.2,307.0 824.2,305.0 825.4,303.0 825.6,302.6 826.7,301.7 827.0,302.4 826.9,302.8 827.3,304.9 828.2,307.2 828.4,308.5 828.3,308.3 828.9,309.8 828.9,309.4 828.9,312.0 828.7,313.0 829.4,313.8 829.2,315.0 830.1,313.6 830.8,313.3 832.5,312.5 832.6,314.6 832.6,314.0 833.5,315.8 833.2,317.5 833.7,318.4 834.0,319.5 834.5,320.3 834.7,321.7 835.2,321.7 836.3,323.3 836.8,324.7 836.1,326.7 836.3,325.9 836.7,327.5 836.7,329.5 836.5,330.7 836.5,331.8 837.0,331.9 837.0,334.2 838.3,333.9 839.7,335.8 839.9,335.6 840.3,334.0 840.8,331.3 841.3,331.6 840.7,330.7 841.3,327.8 841.7,327.5 842.3,326.5 842.3,324.1 842.5,322.7 842.2,322.4 842.2,321.7 842.5,319.8 843.1,318.9 843.5,318.2 843.3,316.7 843.9,315.7 844.3,315.4 843.9,314.0 844.3,312.9 844.9,312.0 844.7,309.7 845.5,310.1 845.8,306.6 845.8,306.7 846.1,304.4 846.2,305.1 846.0,304.2 846.7,301.3 846.4,300.6 847.1,299.7 847.0,298.3 848.3,296.7 848.2,294.2 848.5,295.1 848.8,293.2 849.1,292.4 849.4,289.8 850.1,289.6 850.0,288.3 850.2,288.0 850.5,284.8 850.0,284.1 850.2,284.9 850.5,281.6 850.0,282.5 850.6,280.3 850.4,278.6 850.8,278.1 850.9,277.5 850.2,275.7 850.4,276.0 850.8,272.7 850.5,272.4 850.8,271.7 851.0,270.7 851.1,269.0 851.0,268.5 851.5,265.9 851.8,267.2 851.6,263.9 852.4,263.1 852.2,262.6 852.4,261.6 852.8,261.5 853.0,259.2 853.8,259.1 853.9,262.2 854.5,263.4 854.7,264.2 855.0,265.0 855.7,265.3 856.7,266.7 857.6,268.7 858.3,269.2 858.4,270.5 859.2,270.8 859.7,269.8 860.0,268.3 860.3,267.4 860.2,266.1 860.8,266.7 861.3,264.1 861.7,263.3 861.6,261.5 861.8,260.2 861.6,261.0 862.2,258.7 862.4,257.3 862.5,256.7 862.4,254.4 862.7,253.8 863.2,253.3 863.6,251.6 863.7,251.1 863.1,248.8 863.7,249.8 863.7,248.0 863.9,247.1 864.2,245.0 864.6,243.8 866.2,242.2 866.7,241.7 866.5,241.6 866.5,243.4 867.1,244.5 866.9,245.6 867.1,248.5 867.2,248.0 867.4,251.1 867.3,250.0 867.6,253.3 867.2,252.5 867.1,254.7 867.5,255.8 868.3,254.9 868.7,252.6 868.6,252.7 869.2,250.8 869.6,251.8 869.9,252.9 869.6,254.4 869.9,256.2 870.4,257.1 870.8,258.3 871.1,256.6 871.1,254.8 871.6,255.2 871.8,252.7 871.6,253.4 871.7,251.7 871.8,251.7 872.0,253.0 872.8,254.0 873.2,256.0 873.2,257.6 873.5,258.9 873.9,259.2 874.3,260.1 874.6,262.6 874.9,262.5 875.0,264.2 875.4,264.2 875.3,261.2 875.6,261.7 875.4,258.1 875.9,258.6 876.4,256.6 876.7,255.0 876.7,253.5 876.7,253.3 876.8,251.3 877.4,251.1 878.3,250.0 878.6,250.3 879.2,251.9 878.7,252.6 879.5,255.6 879.2,254.5 879.9,256.1 880.4,258.0 880.3,258.7 880.6,260.1 880.4,262.4 880.8,262.5 880.6,262.0 880.7,260.6 881.1,260.1 880.9,258.1 881.3,257.9 881.9,256.0 881.4,253.9 881.6,253.3 881.7,251.5 882.3,251.6 882.0,251.3 882.0,249.1 882.1,248.7 882.5,246.7 882.9,244.9 882.8,245.2 882.5,242.8 882.7,243.2 882.5,241.5 882.9,239.8 883.0,239.7 882.7,238.6 882.9,237.2 883.4,234.5 883.5,235.5 883.0,231.9 882.9,233.2 883.3,230.8 883.2,233.0 883.6,233.7 883.8,233.3 884.6,234.2 884.6,237.5 885.2,238.5 885.7,237.4 885.3,240.5 885.8,240.8 886.2,238.5 886.3,237.8 886.4,236.4 886.2,237.5 886.7,236.1 886.7,233.9 887.0,232.6 887.5,231.7 887.4,231.0 887.5,230.0 888.0,227.2 888.0,227.1 888.6,225.6 888.2,226.1 888.9,224.3 888.5,221.7 888.7,220.3 888.6,220.3 889.2,219.2 889.2,218.2 889.3,215.6 889.8,216.2 889.8,214.7 890.1,214.7 890.4,212.9 890.1,210.7 890.3,211.3 890.4,208.6 890.6,206.9 890.8,206.7 892.5,205.8 893.1,205.7 892.8,209.2 892.6,209.6 892.8,209.7 892.7,210.6 893.4,213.4 893.6,212.7 893.3,215.0 893.9,213.5 894.3,213.0 894.4,213.1 895.0,210.8 895.0,212.9 896.2,213.6 896.3,215.0 897.2,215.0 898.0,212.5 897.8,214.0 898.4,214.5 898.4,215.7 898.4,217.4 898.6,217.8 898.6,219.5 898.3,220.8 898.7,221.7 898.7,223.8 899.1,224.5 899.4,224.9 899.3,225.2 900.2,227.3 900.0,228.3 900.0,229.5 900.3,229.9 899.7,232.5 900.0,233.1 900.3,234.9 900.3,233.8 899.9,237.0 900.3,236.2 900.0,238.3 900.1,236.6 900.5,235.7 901.3,235.0 901.7,236.2 901.5,236.2 901.5,239.6 901.9,239.3 901.8,241.3 902.1,240.8 902.1,242.4 902.1,243.2 902.1,244.6 902.2,244.9 902.1,247.4 902.0,247.5 902.7,248.9 902.5,249.9 903.0,250.6 902.9,253.7 902.6,253.7 903.0,255.0 903.9,256.4 904.2,256.0 905.0,258.3 905.2,259.1 905.6,260.1 905.5,262.2 906.1,262.5 905.9,264.3 906.6,264.4 906.9,266.9 906.7,267.5 906.8,266.8 906.9,264.1 907.5,263.7 907.5,262.9 908.1,262.4 907.5,260.9 908.1,259.4 908.3,258.3 908.8,257.0 908.6,257.1 908.8,254.9 909.0,254.6 909.3,253.2 909.2,250.3 909.7,250.5 909.7,249.2 910.2,251.1 909.9,250.9 910.2,253.7 910.8,254.2 910.7,251.9 911.4,251.9 911.0,251.0 911.8,249.3 911.4,248.6 911.9,247.2 912.6,246.6 912.6,243.6 912.5,243.3 912.5,242.1 912.4,242.1 912.9,239.0 913.1,237.7 913.8,237.2 913.7,235.8 913.9,236.8 913.7,237.6 914.6,240.0 914.8,239.7 914.4,240.4 914.9,242.3 915.0,243.8 915.3,244.6 915.7,245.3 916.0,247.3 915.8,248.3 915.7,249.0 916.4,250.3 916.7,251.2 916.7,253.5 917.0,254.4 917.5,255.0 918.2,256.5 918.3,258.6 918.7,259.7 919.2,260.0 919.2,258.7 920.1,256.6 920.3,256.7 920.9,256.7 920.8,258.2 921.3,260.4 921.4,261.4 921.4,263.1 921.3,263.1 921.7,265.0 923.2,264.9 924.2,266.7 924.8,267.0 924.4,267.8 925.3,271.2 925.2,271.5 925.3,273.3 925.8,273.3 926.2,273.6 925.9,276.2 926.1,277.8 926.6,277.4 927.1,278.8 927.3,279.6 927.5,281.7 928.1,282.3 928.4,283.0 928.6,286.2 928.5,284.9 928.8,287.6 929.2,288.3 929.3,289.6 929.6,290.5 930.6,291.5 931.0,291.8 931.5,292.9 931.7,295.0 932.6,297.4 933.2,297.3 933.3,298.3 935.3,297.5 935.4,295.9 936.1,295.2 936.5,292.9 936.4,293.8 936.7,291.7 936.9,290.6 936.6,288.4 936.9,289.1 937.5,286.2 937.7,284.5 937.6,285.8 937.5,284.6 937.9,281.1 937.8,280.9 937.8,280.5 937.9,279.4 938.3,277.5 938.4,277.5 938.9,278.7 939.2,281.6 939.5,281.8 939.3,283.1 940.0,284.2 939.7,283.4 939.8,282.0 940.1,280.3 940.5,278.6 940.1,279.5 940.4,278.1 941.0,275.9 940.4,273.8 941.1,272.7 940.9,272.6 940.6,271.2 940.8,270.3 941.2,268.7 941.0,267.6 941.3,266.7 941.2,264.5 941.4,265.3 941.7,264.2 941.4,263.2 942.0,261.7 942.2,260.2 942.0,259.2 942.0,256.8 942.1,256.0 942.6,254.6 943.1,252.9 942.9,252.1 943.0,251.7 943.3,253.6 943.6,252.8 943.4,255.4 944.3,255.1 944.1,257.9 944.5,258.1 944.7,259.6 944.7,260.8 945.8,260.0 946.3,259.9 946.4,262.0 946.0,262.3 945.9,265.2 946.4,264.8 946.1,265.9 946.1,267.2 946.3,270.3 947.0,271.0 946.6,271.4 946.7,272.5 947.1,272.4 947.3,270.6 947.0,269.4 947.8,268.7 947.3,267.3 947.8,264.7 948.5,264.9 948.3,263.3 949.0,263.5 949.5,266.7 949.7,266.7 950.3,268.5 950.4,269.8 950.4,270.0 950.9,272.1 950.8,272.5 951.3,273.1 951.4,274.8 951.5,274.9 951.6,277.8 951.1,279.0 951.2,278.5 951.5,279.7 951.6,282.6 951.9,283.2 951.7,284.5 952.2,285.4 952.4,286.9 952.0,286.1 952.3,289.2 952.2,289.7 952.7,291.3 952.5,291.7 952.2,290.5 952.4,288.4 953.3,288.1 953.3,287.1 953.3,285.4 953.5,285.9 953.9,283.3 953.6,282.2 954.2,281.7 954.6,280.4 954.9,280.2 954.7,278.8 954.9,278.1 955.3,275.5 955.8,275.0 956.4,273.5 955.9,273.8 956.3,272.7 956.3,270.6 956.9,269.5 957.1,267.5 957.1,266.3 957.0,264.8 956.8,266.2 957.2,264.7 957.1,262.4 957.5,261.7 957.3,260.7 958.2,259.4 958.0,259.4 958.6,257.6 958.1,256.3 958.6,256.0 958.8,254.1 959.2,252.3 959.3,251.9 959.8,250.3 959.7,249.2 960.0,251.4 960.1,252.1 961.1,252.4 961.3,253.3 961.5,255.1 962.1,256.2 962.1,255.5 962.0,256.8 962.7,259.9 962.5,260.0 962.3,259.1 962.8,256.6 962.7,257.3 963.0,255.0 963.2,253.9 963.1,253.1 963.6,252.6 963.6,251.6 963.3,251.2 963.7,249.4 963.4,246.9 963.7,246.7 963.9,246.3 964.2,243.9 963.7,243.2 964.5,241.1 964.5,240.0 964.3,238.5 964.4,238.2 965.2,238.5 964.6,235.7 965.0,235.0 965.5,233.1 965.1,232.6 965.1,231.0 965.5,230.3 966.1,228.8 965.6,229.4 965.9,228.1 966.2,226.8 966.1,224.1 966.6,223.8 966.6,223.2 966.7,221.7 967.0,220.0 966.8,220.5 967.0,217.8 967.2,216.6 967.5,214.9 967.6,215.2 967.3,215.0 967.3,212.1 967.3,211.8 968.0,211.0 967.8,210.2 967.7,207.8 968.2,208.4 968.3,206.6 968.3,205.0 968.7,203.6 968.9,203.3 968.4,201.2 968.9,199.9 968.5,200.1 968.9,198.1 969.1,197.9 968.7,195.2 968.7,194.3 969.2,193.3 969.2,193.1 969.4,191.3 969.2,190.2 969.1,189.8 969.7,188.7 969.1,187.1 969.7,185.6 969.9,185.5 969.8,184.2 969.8,183.2 969.3,181.6 969.9,180.3 969.6,177.8 969.9,178.6 969.7,175.9 969.7,174.5 970.1,175.7 970.0,173.3 970.4,174.1 970.4,174.6 970.7,176.4 970.1,178.3 970.3,178.6 970.4,180.2 971.0,182.3 970.7,183.5 970.8,183.1 971.3,185.0 971.6,185.8 971.4,187.5 971.4,189.3 971.5,190.5 972.2,190.9 971.6,192.7 971.7,193.2 972.2,193.2 972.5,196.1 972.5,196.7 972.7,195.3 972.8,194.7 972.7,194.3 973.5,193.0 973.6,190.7 973.8,188.9 973.5,187.9 973.6,188.3 973.9,186.5 973.7,184.7 973.9,183.9 974.2,183.3 974.3,185.1 975.0,185.4 975.3,186.7 975.2,186.1 975.4,183.8 975.8,183.9 976.4,182.9 976.5,182.2 976.4,180.6 976.0,178.1 976.1,178.7 976.7,176.7 976.9,175.9 976.6,174.0 976.6,173.5 977.4,171.5 976.6,170.1 976.9,170.8 977.4,168.5 976.8,166.4 976.9,167.0 977.3,166.4 977.7,164.7 977.4,163.7 977.5,161.7 977.7,161.9 978.7,164.2 978.8,163.0 978.7,161.2 978.6,161.8 979.4,160.7 979.7,158.3 979.6,157.0 979.8,157.0 979.7,155.0 979.7,154.8 980.2,157.4 980.8,158.3 980.8,155.9 981.3,156.8 981.1,153.7 981.6,153.9 981.0,152.2 981.6,152.5 981.6,150.7 981.4,148.6 982.2,147.8 981.5,147.2 982.0,145.8 981.8,146.3 982.2,148.5 982.5,150.0 982.4,149.5 982.8,150.7 982.6,152.8 982.9,154.8 982.7,155.9 983.0,156.7 984.2,155.8 984.4,156.9 983.9,159.2 984.4,158.1 984.1,161.6 984.1,161.2 984.7,163.5 984.6,164.4 984.1,163.9 985.0,166.8 984.2,166.0 984.7,168.3 985.8,170.0 985.7,172.2 985.7,172.7 986.4,173.7 986.4,173.8 985.8,174.3 986.4,175.6 986.6,178.3 986.0,179.7 986.3,180.0 986.3,181.3 986.6,183.2 987.6,184.8 987.5,185.0 987.3,184.7 988.1,183.3 988.4,181.6 988.7,180.0 988.9,181.9 988.5,181.2 989.0,183.0 989.0,183.4 989.4,184.6 989.6,187.8 989.3,187.2 989.6,188.6 989.5,189.5 989.7,191.7 990.2,192.9 989.6,192.8 990.0,195.9 990.2,195.1 989.8,196.7 990.2,197.4 990.2,200.7 990.4,199.3 989.8,200.7 990.4,203.0 990.3,203.8 990.3,205.0" fill="none" stroke="#17598f" stroke-width="3.05" stroke-linejoin="round" stroke-linecap="round"/>
<clipPath id="cr"><rect x="540" y="270" width="450.9" height="30"/></clipPath>
<line clip-path="url(#cr)" x1="558.7" y1="284.4" x2="1000" y2="284.4" stroke="#919191" stroke-width="3.8" stroke-linecap="round" stroke-dasharray="7.3 13.25"/>
<text transform="translate(17.8,474.1) scale(1.018,1)" font-size="15.7" fill="#454545" textLength="71.6" lengthAdjust="spacing" font-style="italic" stroke="#454545" stroke-width="0.35">*L’analyse</text>
<text transform="translate(96.6,474.1) scale(0.947,1)" font-size="15.7" fill="#454545" textLength="63.7" lengthAdjust="spacing" font-style="italic" stroke="#454545" stroke-width="0.35">complète</text>
<text transform="translate(164.9,474.1) scale(0.930,1)" font-size="15.7" fill="#454545" textLength="17.3" lengthAdjust="spacing" font-style="italic" stroke="#454545" stroke-width="0.35">de</text>
<text transform="translate(188.5,474.1) scale(1.056,1)" font-size="15.7" fill="#454545" textLength="12.2" lengthAdjust="spacing" font-style="italic" stroke="#454545" stroke-width="0.35">la</text>
<text transform="translate(211.3,474.1) scale(1.070,1)" font-size="15.7" fill="#454545" textLength="55.1" lengthAdjust="spacing" font-style="italic" stroke="#454545" stroke-width="0.35">relation</text>
<text transform="translate(277.3,474.1) scale(0.930,1)" font-size="15.7" fill="#454545" textLength="17.2" lengthAdjust="spacing" font-style="italic" stroke="#454545" stroke-width="0.35">de</text>
<text transform="translate(299.4,474.1) scale(1.070,1)" font-size="15.7" fill="#454545" textLength="80.7" lengthAdjust="spacing" font-style="italic" stroke="#454545" stroke-width="0.35">couverture,</text>
<text transform="translate(390.7,474.1) scale(1.070,1)" font-size="15.7" fill="#454545" textLength="79.8" lengthAdjust="spacing" font-style="italic" stroke="#454545" stroke-width="0.35">notamment</text>
<text transform="translate(482.2,474.1) scale(1.047,1)" font-size="15.7" fill="#454545" textLength="12.2" lengthAdjust="spacing" font-style="italic" stroke="#454545" stroke-width="0.35">la</text>
<text transform="translate(500.5,474.1) scale(1.070,1)" font-size="15.7" fill="#454545" textLength="76.2" lengthAdjust="spacing" font-style="italic" stroke="#454545" stroke-width="0.35">corrélation</text>
<text transform="translate(588.5,474.1) scale(1.062,1)" font-size="15.7" fill="#454545" textLength="13.1" lengthAdjust="spacing" font-style="italic" stroke="#454545" stroke-width="0.35">et</text>
<text transform="translate(609.1,474.1) scale(1.056,1)" font-size="15.7" fill="#454545" textLength="12.2" lengthAdjust="spacing" font-style="italic" stroke="#454545" stroke-width="0.35">le</text>
<text transform="translate(627.9,474.1) scale(1.017,1)" font-size="15.7" fill="#454545" textLength="42.8" lengthAdjust="spacing" font-style="italic" stroke="#454545" stroke-width="0.35">risque</text>
<text transform="translate(679.0,474.1) scale(0.930,1)" font-size="15.7" fill="#454545" textLength="17.2" lengthAdjust="spacing" font-style="italic" stroke="#454545" stroke-width="0.35">de</text>
<text transform="translate(702.2,474.1) scale(0.930,1)" font-size="15.7" fill="#454545" textLength="37.3" lengthAdjust="spacing" font-style="italic" stroke="#454545" stroke-width="0.35">base,</text>
<text transform="translate(744.5,474.1) scale(1.070,1)" font-size="15.7" fill="#454545" textLength="21.0" lengthAdjust="spacing" font-style="italic" stroke="#454545" stroke-width="0.35">est</text>
<text transform="translate(774.6,474.1) scale(0.930,1)" font-size="15.7" fill="#454545" textLength="17.2" lengthAdjust="spacing" font-style="italic" stroke="#454545" stroke-width="0.35">de</text>
<text transform="translate(797.1,474.1) scale(0.998,1)" font-size="15.7" fill="#454545" textLength="12.2" lengthAdjust="spacing" font-style="italic" stroke="#454545" stroke-width="0.35">la</text>
<text transform="translate(17.8,493.2) scale(1.063,1)" font-size="15.7" fill="#454545" textLength="96.9" lengthAdjust="spacing" font-style="italic" stroke="#454545" stroke-width="0.35">responsabilité</text>
<text transform="translate(128.0,493.2) scale(0.930,1)" font-size="15.7" fill="#454545" textLength="17.2" lengthAdjust="spacing" font-style="italic" stroke="#454545" stroke-width="0.35">de</text>
<text transform="translate(151.0,493.2) scale(1.047,1)" font-size="15.7" fill="#454545" textLength="12.2" lengthAdjust="spacing" font-style="italic" stroke="#454545" stroke-width="0.35">la</text>
<text transform="translate(169.2,493.2) scale(1.070,1)" font-size="15.7" fill="#454545" textLength="90.7" lengthAdjust="spacing" font-style="italic" stroke="#454545" stroke-width="0.35">contrepartie.</text>
<text transform="translate(273.4,493.2) scale(0.968,1)" font-size="15.7" fill="#454545" textLength="33.2" lengthAdjust="spacing" font-style="italic" stroke="#454545" stroke-width="0.35">Pour</text>
<text transform="translate(312.0,493.2) scale(1.057,1)" font-size="15.7" fill="#454545" textLength="84.6" lengthAdjust="spacing" font-style="italic" stroke="#454545" stroke-width="0.35">transactions</text>
<text transform="translate(408.6,493.2) scale(0.930,1)" font-size="15.7" fill="#454545" textLength="17.3" lengthAdjust="spacing" font-style="italic" stroke="#454545" stroke-width="0.35">de</text>
<text transform="translate(431.0,493.2) scale(1.070,1)" font-size="15.7" fill="#454545" textLength="75.4" lengthAdjust="spacing" font-style="italic" stroke="#454545" stroke-width="0.35">couverture</text>
<text transform="translate(516.8,493.2) scale(1.063,1)" font-size="15.7" fill="#454545" textLength="76.8" lengthAdjust="spacing" font-style="italic" stroke="#454545" stroke-width="0.35">seulement.</text>
<text transform="translate(17.8,511.7) scale(0.930,1)" font-size="15.7" fill="#454545" textLength="23.4" lengthAdjust="spacing" font-style="italic" stroke="#454545" stroke-width="0.35">*Le</text>
<text transform="translate(45.7,511.7) scale(1.006,1)" font-size="15.7" fill="#454545" textLength="55.9" lengthAdjust="spacing" font-style="italic" stroke="#454545" stroke-width="0.35">contenu</text>
<text transform="translate(109.5,511.7) scale(0.930,1)" font-size="15.7" fill="#454545" textLength="17.2" lengthAdjust="spacing" font-style="italic" stroke="#454545" stroke-width="0.35">de</text>
<text transform="translate(132.7,511.7) scale(1.070,1)" font-size="15.7" fill="#454545" textLength="35.0" lengthAdjust="spacing" font-style="italic" stroke="#454545" stroke-width="0.35">cette</text>
<text transform="translate(177.7,511.7) scale(1.070,1)" font-size="15.7" fill="#454545" textLength="67.2" lengthAdjust="spacing" font-style="italic" stroke="#454545" stroke-width="0.35">infolettre</text>
<text transform="translate(255.4,511.7) scale(1.055,1)" font-size="15.7" fill="#454545" textLength="20.9" lengthAdjust="spacing" font-style="italic" stroke="#454545" stroke-width="0.35">est</text>
<text transform="translate(283.4,511.7) scale(1.070,1)" font-size="15.7" fill="#454545" textLength="70.2" lengthAdjust="spacing" font-style="italic" stroke="#454545" stroke-width="0.35">informatif</text>
<text transform="translate(364.1,511.7) scale(1.034,1)" font-size="15.7" fill="#454545" textLength="72.4" lengthAdjust="spacing" font-style="italic" stroke="#454545" stroke-width="0.35">seulement</text>
<text transform="translate(446.2,511.7) scale(1.062,1)" font-size="15.7" fill="#454545" textLength="13.1" lengthAdjust="spacing" font-style="italic" stroke="#454545" stroke-width="0.35">et</text>
<text transform="translate(467.2,511.7) scale(1.070,1)" font-size="15.7" fill="#454545" textLength="8.4" lengthAdjust="spacing" font-style="italic" stroke="#454545" stroke-width="0.35">il</text>
<text transform="translate(482.7,511.7) scale(0.930,1)" font-size="15.7" fill="#454545" textLength="17.2" lengthAdjust="spacing" font-style="italic" stroke="#454545" stroke-width="0.35">ne</text>
<text transform="translate(505.2,511.7) scale(0.982,1)" font-size="15.7" fill="#454545" textLength="30.5" lengthAdjust="spacing" font-style="italic" stroke="#454545" stroke-width="0.35">crée</text>
<text transform="translate(542.1,511.7) scale(0.998,1)" font-size="15.7" fill="#454545" textLength="51.5" lengthAdjust="spacing" font-style="italic" stroke="#454545" stroke-width="0.35">aucune</text>
<text transform="translate(599.4,511.7) scale(1.070,1)" font-size="15.7" fill="#454545" textLength="68.8" lengthAdjust="spacing" font-style="italic" stroke="#454545" stroke-width="0.35">obligation</text>
<text transform="translate(680.0,511.7) scale(1.014,1)" font-size="15.7" fill="#454545" textLength="41.9" lengthAdjust="spacing" font-style="italic" stroke="#454545" stroke-width="0.35">légale</text>
<text transform="translate(729.2,511.7) scale(0.933,1)" font-size="15.7" fill="#454545" textLength="17.5" lengthAdjust="spacing" font-style="italic" stroke="#454545" stroke-width="0.35">ou</text>
<text transform="translate(752.5,511.7) scale(1.070,1)" font-size="15.7" fill="#454545" textLength="92.2" lengthAdjust="spacing" font-style="italic" stroke="#454545" stroke-width="0.35">contractuelle</text>
<text transform="translate(17.8,530.4) scale(1.070,1)" font-size="15.7" fill="#454545" textLength="32.1" lengthAdjust="spacing" font-style="italic" stroke="#454545" stroke-width="0.35">pour</text>
<text transform="translate(57.5,530.4) scale(1.047,1)" font-size="15.7" fill="#454545" textLength="12.2" lengthAdjust="spacing" font-style="italic" stroke="#454545" stroke-width="0.35">la</text>
<text transform="translate(75.8,530.4) scale(0.950,1)" font-size="15.7" fill="#454545" textLength="54.1" lengthAdjust="spacing" font-style="italic" stroke="#454545" stroke-width="0.35">Banque</text>
<text transform="translate(133.8,530.4) scale(1.067,1)" font-size="15.7" fill="#454545" textLength="66.3" lengthAdjust="spacing" font-style="italic" stroke="#454545" stroke-width="0.35">Nationale</text>
<text transform="translate(211.3,530.4) scale(1.062,1)" font-size="15.7" fill="#454545" textLength="13.1" lengthAdjust="spacing" font-style="italic" stroke="#454545" stroke-width="0.35">et</text>
<text transform="translate(231.7,530.4) scale(0.962,1)" font-size="15.7" fill="#454545" textLength="20.1" lengthAdjust="spacing" font-style="italic" stroke="#454545" stroke-width="0.35">les</text>
<text transform="translate(257.5,530.4) scale(1.070,1)" font-size="15.7" fill="#454545" textLength="47.1" lengthAdjust="spacing" font-style="italic" stroke="#454545" stroke-width="0.35">entités</text>
<text transform="translate(314.4,530.4) scale(0.930,1)" font-size="15.7" fill="#454545" textLength="17.3" lengthAdjust="spacing" font-style="italic" stroke="#454545" stroke-width="0.35">de</text>
<text transform="translate(337.0,530.4) scale(0.930,1)" font-size="15.7" fill="#454545" textLength="25.3" lengthAdjust="spacing" font-style="italic" stroke="#454545" stroke-width="0.35">son</text>
<text transform="translate(367.1,530.4) scale(1.008,1)" font-size="15.7" fill="#454545" textLength="48.9" lengthAdjust="spacing" font-style="italic" stroke="#454545" stroke-width="0.35">groupe</text>
<text transform="translate(17.8,549.7) scale(0.968,1)" font-size="15.7" fill="#454545" textLength="68.1" lengthAdjust="spacing" font-style="italic" stroke="#454545" stroke-width="0.35">*Sources:</text>
<text transform="translate(91.4,549.7) scale(0.847,1)" font-size="15.7" fill="#454545" textLength="32.4" lengthAdjust="spacing" font-style="italic" stroke="#454545" stroke-width="0.35">BNC</text>
<text transform="translate(126.1,549.7) scale(1.070,1)" font-size="15.7" fill="#454545" textLength="13.6" lengthAdjust="spacing" font-style="italic" stroke="#454545" stroke-width="0.35">et</text>
<text transform="translate(146.7,549.7) scale(1.022,1)" font-size="15.7" fill="#454545" textLength="75.9" lengthAdjust="spacing" font-style="italic" stroke="#454545" stroke-width="0.35">Bloomberg</text>
</g>
</svg></body></html>
